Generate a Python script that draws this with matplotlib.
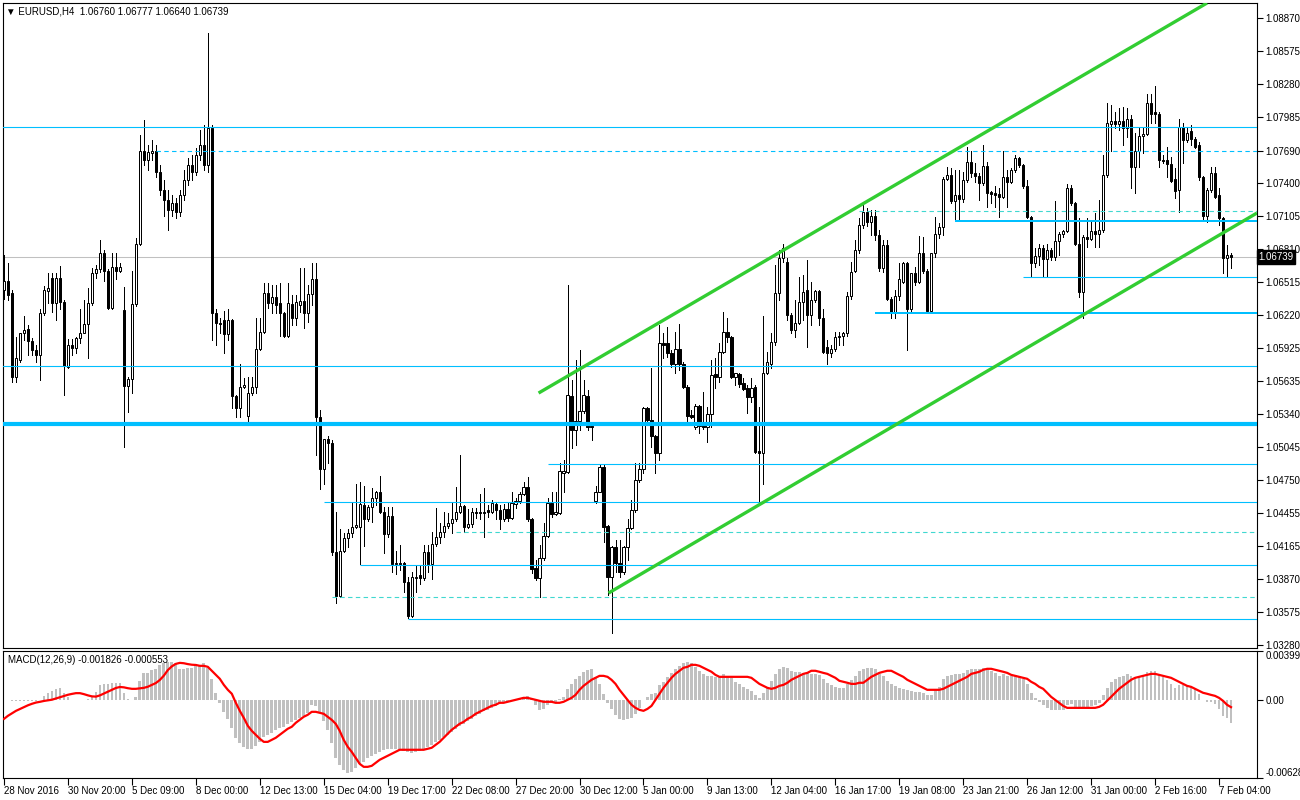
# EURUSD H4 candlestick chart with MACD(12,26,9) panel, MT4 style
import numpy as np
import matplotlib
matplotlib.use('Agg')
import matplotlib.pyplot as plt
from matplotlib.transforms import blended_transform_factory

plt.rcParams['font.family'] = ['Liberation Sans', 'DejaVu Sans']
plt.rcParams['font.size'] = 7

# prices in pips (price x 10^4), one entry per H4 bar
opens = [
    10645, 10653, 10642, 10567, 10582, 10606, 10610, 10599, 10591, 10587,
    10624, 10644, 10655, 10633, 10655, 10634, 10576, 10596, 10593, 10602,
    10606, 10614, 10633, 10660, 10663, 10678, 10662, 10629, 10665, 10662,
    10627, 10559, 10565, 10632, 10686, 10769, 10761, 10767, 10769, 10750,
    10734, 10725, 10716, 10722, 10714, 10729, 10743, 10756, 10750, 10765,
    10774, 10756, 10789, 10624, 10615, 10618, 10605, 10618, 10550, 10539,
    10558, 10532, 10553, 10558, 10592, 10607, 10642, 10633, 10638, 10633,
    10624, 10604, 10632, 10620, 10631, 10635, 10624, 10641, 10654, 10531,
    10485, 10512, 10508, 10411, 10372, 10412, 10423, 10428, 10433, 10433,
    10453, 10440, 10451, 10459, 10464, 10447, 10427, 10443, 10400, 10401,
    10401, 10384, 10354, 10388, 10390, 10388, 10411, 10400, 10418, 10424,
    10429, 10434, 10437, 10440, 10447, 10452, 10433, 10436, 10447, 10447,
    10447, 10448, 10447, 10454, 10448, 10440, 10449, 10441, 10454, 10456,
    10463, 10469, 10440, 10397, 10388, 10406, 10425, 10455, 10445, 10446,
    10481, 10482, 10550, 10520, 10528, 10537, 10550, 10523, 10456, 10464,
    10487, 10434, 10389, 10415, 10401, 10393, 10415, 10432, 10448, 10475,
    10485, 10539, 10529, 10514, 10499, 10597, 10597, 10588, 10579, 10592,
    10579, 10558, 10533, 10522, 10541, 10524, 10522, 10534, 10570, 10567,
    10589, 10607, 10603, 10567, 10570, 10562, 10557, 10549, 10558, 10501,
    10499, 10571, 10579, 10598, 10642, 10673, 10670, 10622, 10609, 10615,
    10634, 10645, 10622, 10636, 10644, 10620, 10594, 10588, 10592, 10603,
    10604, 10606, 10639, 10662, 10680, 10703, 10714, 10705, 10711, 10694,
    10664, 10685, 10637, 10625, 10639, 10652, 10669, 10628, 10660, 10652,
    10678, 10662, 10626, 10678, 10695, 10701, 10744, 10747, 10724, 10729,
    10726, 10743, 10759, 10749, 10746, 10740, 10755, 10732, 10731, 10730,
    10728, 10745, 10741, 10752, 10762, 10756, 10737, 10710, 10669, 10675,
    10682, 10672, 10680, 10674, 10688, 10695, 10697, 10736, 10722, 10686,
    10643, 10692, 10690, 10697, 10695, 10698, 10747, 10793, 10795, 10793,
    10795, 10789, 10797, 10754, 10769, 10782, 10784, 10811, 10803, 10802,
    10761, 10761, 10757, 10744, 10734, 10790, 10778, 10786, 10779, 10774,
    10745, 10711, 10734, 10749, 10729, 10709, 10673, 10676.0]

highs = [
    10676, 10669, 10645, 10603, 10606, 10621, 10613, 10602, 10596, 10628,
    10648, 10660, 10660, 10660, 10666, 10636, 10601, 10601, 10603, 10628,
    10636, 10646, 10664, 10667, 10689, 10680, 10663, 10678, 10678, 10669,
    10647, 10567, 10662, 10691, 10783, 10796, 10774, 10778, 10774, 10756,
    10743, 10734, 10729, 10727, 10734, 10752, 10762, 10765, 10771, 10787,
    10792, 10874, 10792, 10628, 10620, 10626, 10628, 10619, 10551, 10579,
    10566, 10567, 10567, 10620, 10620, 10651, 10651, 10649, 10649, 10651,
    10625, 10651, 10640, 10640, 10664, 10664, 10649, 10669, 10669, 10538,
    10512, 10514, 10511, 10447, 10431, 10428, 10431, 10455, 10472, 10473,
    10470, 10453, 10468, 10465, 10479, 10451, 10451, 10451, 10412, 10417,
    10402, 10389, 10393, 10398, 10398, 10417, 10417, 10429, 10450, 10437,
    10447, 10446, 10455, 10469, 10497, 10453, 10449, 10450, 10450, 10463,
    10468, 10453, 10457, 10455, 10453, 10454, 10455, 10464, 10459, 10464,
    10473, 10478, 10441, 10404, 10417, 10437, 10459, 10464, 10464, 10490,
    10493, 10649, 10564, 10582, 10591, 10564, 10555, 10524, 10470, 10489,
    10489, 10435, 10416, 10422, 10422, 10416, 10440, 10457, 10490, 10490,
    10540, 10540, 10575, 10515, 10613, 10606, 10612, 10591, 10607, 10614,
    10580, 10560, 10538, 10543, 10542, 10554, 10540, 10582, 10584, 10597,
    10625, 10620, 10604, 10571, 10571, 10566, 10560, 10566, 10560, 10540,
    10621, 10589, 10606, 10667, 10680, 10686, 10673, 10624, 10636, 10656,
    10658, 10671, 10652, 10645, 10645, 10628, 10600, 10596, 10607, 10607,
    10607, 10643, 10670, 10689, 10709, 10720, 10718, 10716, 10716, 10698,
    10689, 10689, 10638, 10645, 10669, 10670, 10670, 10660, 10665, 10693,
    10692, 10663, 10678, 10710, 10704, 10745, 10754, 10753, 10752, 10752,
    10750, 10772, 10769, 10758, 10749, 10774, 10759, 10733, 10737, 10736,
    10769, 10752, 10753, 10765, 10763, 10757, 10743, 10711, 10682, 10686,
    10685, 10686, 10682, 10724, 10696, 10698, 10739, 10738, 10723, 10709,
    10694, 10709, 10707, 10713, 10725, 10765, 10811, 10810, 10803, 10807,
    10808, 10807, 10801, 10785, 10789, 10790, 10819, 10819, 10827, 10803,
    10765, 10772, 10763, 10753, 10797, 10794, 10789, 10792, 10781, 10777,
    10746, 10736, 10754, 10754, 10736, 10710, 10685, 10677.7]

lows = [
    10637, 10636, 10563, 10563, 10580, 10600, 10587, 10587, 10580, 10564,
    10622, 10633, 10625, 10618, 10628, 10551, 10575, 10587, 10588, 10597,
    10606, 10584, 10631, 10655, 10661, 10653, 10628, 10628, 10654, 10661,
    10505, 10536, 10553, 10630, 10685, 10756, 10752, 10761, 10745, 10729,
    10711, 10698, 10711, 10709, 10711, 10725, 10738, 10743, 10747, 10761,
    10752, 10750, 10600, 10596, 10606, 10588, 10600, 10539, 10531, 10531,
    10557, 10524, 10551, 10553, 10591, 10606, 10629, 10624, 10624, 10604,
    10603, 10603, 10613, 10613, 10625, 10611, 10616, 10631, 10497, 10467,
    10472, 10490, 10408, 10365, 10371, 10411, 10415, 10424, 10432, 10400,
    10416, 10439, 10438, 10453, 10446, 10410, 10424, 10393, 10391, 10395,
    10375, 10352, 10353, 10375, 10382, 10386, 10393, 10387, 10416, 10419,
    10424, 10432, 10428, 10439, 10446, 10429, 10432, 10433, 10441, 10440,
    10424, 10442, 10446, 10440, 10431, 10439, 10439, 10440, 10450, 10455,
    10462, 10439, 10392, 10386, 10371, 10404, 10424, 10442, 10444, 10445,
    10464, 10481, 10504, 10506, 10520, 10535, 10520, 10511, 10455, 10464,
    10420, 10373, 10339, 10393, 10389, 10391, 10404, 10431, 10447, 10473,
    10481, 10526, 10505, 10481, 10493, 10584, 10585, 10576, 10571, 10573,
    10557, 10524, 10530, 10521, 10517, 10521, 10509, 10522, 10557, 10563,
    10588, 10598, 10566, 10560, 10558, 10555, 10535, 10545, 10499, 10455,
    10472, 10570, 10575, 10596, 10636, 10670, 10618, 10606, 10603, 10614,
    10618, 10594, 10613, 10634, 10613, 10588, 10579, 10585, 10590, 10596,
    10596, 10604, 10637, 10661, 10678, 10700, 10702, 10694, 10689, 10662,
    10661, 10636, 10620, 10620, 10636, 10651, 10591, 10624, 10649, 10651,
    10660, 10625, 10625, 10674, 10691, 10694, 10743, 10722, 10708, 10707,
    10723, 10741, 10745, 10741, 10725, 10738, 10719, 10722, 10719, 10710,
    10727, 10719, 10740, 10750, 10754, 10736, 10709, 10656, 10665, 10667,
    10656, 10656, 10671, 10671, 10676, 10692, 10696, 10720, 10685, 10638,
    10620, 10683, 10689, 10683, 10683, 10696, 10745, 10769, 10789, 10787,
    10774, 10781, 10736, 10731, 10754, 10767, 10783, 10794, 10794, 10754,
    10758, 10745, 10741, 10727, 10714, 10758, 10777, 10774, 10771, 10743,
    10708, 10705, 10732, 10727, 10703, 10660, 10656, 10664.0]

closes = [
    10653, 10640, 10567, 10584, 10606, 10609, 10599, 10591, 10587, 10624,
    10645, 10646, 10633, 10655, 10634, 10577, 10596, 10593, 10602, 10606,
    10614, 10633, 10660, 10663, 10678, 10662, 10629, 10665, 10662, 10665,
    10559, 10565, 10632, 10686, 10769, 10761, 10768, 10769, 10750, 10734,
    10725, 10716, 10722, 10714, 10729, 10743, 10756, 10750, 10765, 10774,
    10756, 10789, 10624, 10615, 10614, 10605, 10618, 10550, 10539, 10558,
    10560, 10553, 10558, 10592, 10607, 10642, 10633, 10638, 10631, 10624,
    10604, 10633, 10620, 10634, 10635, 10624, 10641, 10654, 10531, 10485,
    10512, 10508, 10411, 10372, 10412, 10423, 10428, 10433, 10435, 10454,
    10440, 10451, 10459, 10464, 10447, 10427, 10443, 10400, 10401, 10400,
    10384, 10354, 10389, 10389, 10388, 10411, 10400, 10418, 10424, 10429,
    10434, 10437, 10440, 10447, 10452, 10433, 10436, 10447, 10446, 10446,
    10446, 10447, 10455, 10448, 10440, 10449, 10441, 10455, 10456, 10463,
    10469, 10440, 10396, 10388, 10406, 10425, 10455, 10445, 10447, 10483,
    10483, 10551, 10520, 10528, 10537, 10551, 10522, 10522, 10464, 10487,
    10433, 10389, 10415, 10401, 10393, 10415, 10432, 10448, 10475, 10485,
    10539, 10529, 10514, 10499, 10597, 10596, 10588, 10579, 10592, 10579,
    10558, 10532, 10531, 10541, 10523, 10522, 10534, 10569, 10567, 10589,
    10607, 10603, 10567, 10571, 10561, 10556, 10549, 10557, 10500, 10499,
    10571, 10580, 10598, 10642, 10673, 10682, 10622, 10609, 10615, 10634,
    10643, 10622, 10636, 10644, 10620, 10589, 10588, 10592, 10603, 10604,
    10606, 10639, 10661, 10680, 10703, 10714, 10705, 10711, 10694, 10664,
    10685, 10637, 10625, 10639, 10654, 10669, 10628, 10660, 10652, 10678,
    10662, 10626, 10678, 10695, 10701, 10744, 10747, 10724, 10729, 10726,
    10743, 10759, 10749, 10746, 10740, 10755, 10731, 10730, 10729, 10728,
    10745, 10741, 10752, 10762, 10756, 10737, 10710, 10669, 10675, 10682,
    10672, 10680, 10674, 10688, 10695, 10697, 10736, 10722, 10686, 10643,
    10692, 10690, 10697, 10695, 10698, 10747, 10794, 10795, 10793, 10795,
    10789, 10797, 10754, 10769, 10782, 10784, 10811, 10802, 10802, 10761,
    10760, 10757, 10742, 10733, 10790, 10778, 10785, 10779, 10772, 10745,
    10711, 10734, 10749, 10728, 10709, 10673, 10676, 10673.9]

# MACD(12,26,9) main line (histogram) and signal, in units of 1e-5
macd_main = [
    5, 3, -5, -8, -6, -4, -3, -2, -2, 3,
    36, 61, 77, 93, 101, 61, 28, 4, 4, 4,
    4, 12, 28, 69, 120, 133, 133, 142, 142, 142,
    61, 12, 4, 28, 158, 222, 222, 247, 255, 287,
    303, 311, 311, 303, 255, 255, 263, 263, 279, 287,
    303, 263, 170, 61, -20, -93, -150, -222, -303, -344,
    -376, -392, -392, -370, -340, -300, -280, -263, -239, -222,
    -214, -190, -174, -158, -142, -125, -101, -40, -45, -93,
    -166, -239, -344, -470, -522, -562, -587, -579, -546, -514,
    -498, -465, -449, -433, -417, -400, -392, -392, -392, -400,
    -410, -420, -425, -420, -410, -395, -380, -360, -340, -320,
    -300, -280, -260, -235, -210, -190, -170, -150, -130, -110,
    -90, -75, -60, -45, -30, -20, -10, 0, 10, 20,
    30, 35, 20, -40, -75, -70, -40, -20, -10, 10,
    30, 90, 130, 170, 200, 230, 245, 250, 190, 130,
    50, -20, -70, -120, -150, -160, -150, -140, -110, -60,
    0, 30, 50, 60, 120, 150, 190, 220, 255, 280,
    300, 310, 300, 270, 240, 215, 200, 200, 190, 200,
    210, 200, 180, 150, 130, 110, 90, 75, 40, 20,
    60, 110, 160, 210, 250, 270, 260, 240, 230, 230,
    225, 220, 215, 215, 205, 170, 140, 120, 110, 100,
    100, 130, 165, 200, 235, 255, 265, 265, 250, 215,
    195, 160, 130, 115, 100, 95, 80, 75, 65, 70,
    60, 40, 45, 80, 110, 170, 200, 205, 210, 215,
    225, 245, 255, 255, 250, 260, 250, 235, 220, 200,
    210, 200, 200, 205, 195, 170, 130, 60, 20, -10,
    -40, -60, -80, -80, -80, -75, -40, -30, -50, -70,
    -60, -55, -45, -35, -20, 40, 100, 150, 170, 185,
    200, 215, 200, 190, 200, 205, 230, 240, 240, 210,
    185, 165, 130, 100, 120, 120, 120, 110, 90, 50,
    0, -10, -10, -30, -70, -130, -140, -182.6]

macd_signal = [
    -150, -125, -105, -85, -70, -55, -40, -28, -18, -12,
    -5, 0, 5, 15, 25, 35, 45, 52, 58, 58,
    50, 40, 32, 30, 40, 55, 70, 85, 100, 108,
    105, 98, 93, 93, 97, 101, 110, 125, 140, 165,
    200, 245, 275, 295, 303, 300, 293, 288, 286, 279,
    279, 271, 239, 206, 174, 125, 85, 53, -20, -85,
    -142, -206, -247, -279, -311, -336, -336, -320, -303, -279,
    -255, -230, -214, -182, -158, -133, -117, -93, -93, -101,
    -109, -133, -158, -190, -247, -320, -376, -417, -465, -514,
    -538, -538, -530, -506, -481, -465, -449, -433, -417, -400,
    -400, -400, -400, -400, -400, -400, -392, -384, -360, -336,
    -303, -271, -239, -214, -190, -174, -150, -133, -109, -93,
    -77, -61, -45, -36, -20, -20, -12, -4, 4, 12,
    20, 20, 12, 4, -4, -12, -12, -12, -20, -20,
    -12, 4, 20, 44, 85, 117, 142, 166, 182, 198,
    198, 190, 166, 133, 85, 44, 4, -36, -61, -77,
    -85, -69, -45, 4, 53, 101, 142, 182, 214, 239,
    263, 271, 287, 287, 279, 263, 247, 231, 206, 190,
    190, 190, 190, 190, 190, 190, 190, 182, 158, 133,
    117, 101, 93, 101, 117, 125, 142, 166, 182, 198,
    214, 222, 239, 239, 231, 222, 214, 198, 182, 158,
    150, 142, 133, 133, 142, 142, 166, 190, 206, 222,
    231, 239, 239, 222, 206, 190, 166, 150, 133, 117,
    101, 85, 85, 85, 85, 93, 109, 125, 142, 158,
    174, 190, 214, 222, 231, 247, 255, 255, 247, 239,
    231, 222, 206, 198, 190, 182, 174, 150, 133, 109,
    93, 61, 28, 4, -20, -45, -61, -61, -61, -61,
    -61, -61, -61, -61, -53, -36, -4, 28, 61, 93,
    117, 142, 166, 182, 190, 198, 206, 214, 214, 206,
    198, 190, 182, 166, 150, 133, 117, 109, 93, 77,
    61, 53, 44, 36, 20, -4, -36, -55.3]

date_labels = ['28 Nov 2016', '30 Nov 20:00', '5 Dec 09:00', '8 Dec 00:00',
               '12 Dec 13:00', '15 Dec 04:00', '19 Dec 17:00', '22 Dec 08:00',
               '27 Dec 20:00', '30 Dec 12:00', '5 Jan 00:00', '9 Jan 13:00',
               '12 Jan 04:00', '16 Jan 17:00', '19 Jan 08:00', '23 Jan 21:00',
               '26 Jan 12:00', '31 Jan 00:00', '2 Feb 16:00', '7 Feb 04:00']
price_labels = [1.08870, 1.08575, 1.08280, 1.07985, 1.07690, 1.07400, 1.07105,
                1.06810, 1.06515, 1.06220, 1.05925, 1.05635, 1.05340, 1.05045,
                1.04750, 1.04455, 1.04165, 1.03870, 1.03575, 1.03280]

# horizontal support / resistance levels and the bar where each one starts
level_prices = [1.07901, 1.07690, 1.07155, 1.07065, 1.06560, 1.06240, 1.05769,
                1.05255, 1.04892, 1.04553, 1.04288, 1.03991, 1.03705, 1.03509]
level_start = [-1, 38, 214, 238, 255, 218, -1, -1, 136, 80, 113, 89, 82, 101]

# rising channel (bar index, price)
upper_bars = [133.75, 301.0]
upper_prices = [1.05527, 1.09006]
lower_bars = [151.25, 313.5]
lower_prices = [1.03743, 1.07133]

last_price = 1.06739

o = np.array(opens) / 1e4
h = np.array(highs) / 1e4
l = np.array(lows) / 1e4
c = np.array(closes) / 1e4
x = np.arange(len(o))
up = c >= o

W, H = 1300, 800
fig = plt.figure(figsize=(13, 8), dpi=100)
ax = fig.add_axes([3 / W, 1 - 648 / H, 1254 / W, 645 / H])
ax2 = fig.add_axes([3 / W, 1 - 778 / H, 1254 / W, 127 / H])

xmax = 313.5
for a in (ax, ax2):
    a.set_xlim(-0.25, xmax)
    for s in a.spines.values():
        s.set_linewidth(0.8)
        s.set_color('black')

# bid line
ax.plot([-1, xmax + 1], [last_price, last_price], color='#c0c0c0', lw=0.75,
        snap=True, zorder=1)

# candles
ax.vlines(x, l, h, color='black', lw=0.72, antialiased=False, zorder=2)
body = np.maximum(np.abs(c - o), 0.00002)
ax.bar(x, body, bottom=np.minimum(o, c), width=0.55,
       color=np.where(up, 'white', 'black'), edgecolor='black',
       linewidth=0.72, zorder=3)

# levels
blue = '#00bfff'
turq = '#40d8d0'
dash = (0, (4, 3))
level_styles = [
    (blue, 0.8, '-'), (blue, 0.8, dash), (turq, 0.8, dash),
    (blue, 1.44, '-'), (blue, 0.8, '-'), (blue, 1.44, '-'), (blue, 0.8, '-'),
    (blue, 3.0, '-'), (blue, 0.8, '-'), (blue, 0.8, '-'),
    (turq, 0.8, dash), (blue, 0.8, '-'),
    (turq, 0.8, dash), (blue, 0.8, '-')]
for p, s, (col, lw, ls) in zip(level_prices, level_start, level_styles):
    ax.plot([s, xmax + 1], [p, p], color=col, lw=lw, linestyle=ls,
            snap=True, solid_capstyle='butt', dash_capstyle='butt', zorder=4)

ax.plot(upper_bars, upper_prices, color='#32cd32', lw=2.4, zorder=5,
        solid_capstyle='butt')
ax.plot(lower_bars, lower_prices, color='#32cd32', lw=2.4, zorder=5,
        solid_capstyle='butt')

ax.set_ylim(1.03253, 1.09006)
ax.yaxis.tick_right()
ax.set_yticks(price_labels)
ax.set_yticklabels(['%.5f' % p for p in price_labels])
ax.tick_params(axis='y', direction='out', length=4, width=0.8, pad=2,
               labelsize=7)
ax.tick_params(axis='x', bottom=False, labelbottom=False)

trans = blended_transform_factory(ax.transAxes, ax.transData)
ax.text(1.0012, last_price, '%.5f' % last_price, transform=trans, color='white',
        fontsize=7, va='center', ha='left', zorder=10,
        bbox=dict(boxstyle='square,pad=0.18', fc='black', ec='black'))

fig.text(6 / W, 1 - 12 / H, '\u25bc EURUSD,H4  1.06760 1.06777 1.06640 1.06739',
         fontsize=7, va='center', ha='left')

# MACD panel
hist = np.array(macd_main) * 1e-5
sig = np.array(macd_signal) * 1e-5
ax2.bar(x, hist, width=0.7, color='#c0c0c0', zorder=2)
ax2.plot(x, sig, color='red', lw=1.6, zorder=3)
ax2.set_ylim(-0.006283, 0.00399)
ax2.yaxis.tick_right()
ax2.set_yticks([0.00399, 0.0, -0.006283])
ax2.set_yticklabels(['0.00399', '0.00', '-0.006283'])
ylabs = ax2.get_yticklabels()
ylabs[0].set_va('top')
ylabs[2].set_va('bottom')
ax2.tick_params(axis='y', direction='out', length=4, width=0.8, pad=2,
                labelsize=7)
ax2.set_xticks(np.arange(0, 16 * len(date_labels), 16))
ax2.set_xticklabels(date_labels)
for lab in ax2.get_xticklabels():
    lab.set_ha('left')
ax2.tick_params(axis='x', direction='out', length=5, width=0.8, pad=1,
                labelsize=7)
fig.text(8 / W, 1 - 660 / H, 'MACD(12,26,9) -0.001826 -0.000553',
         fontsize=7, va='center', ha='left')

fig.savefig('out.png', dpi=100)
